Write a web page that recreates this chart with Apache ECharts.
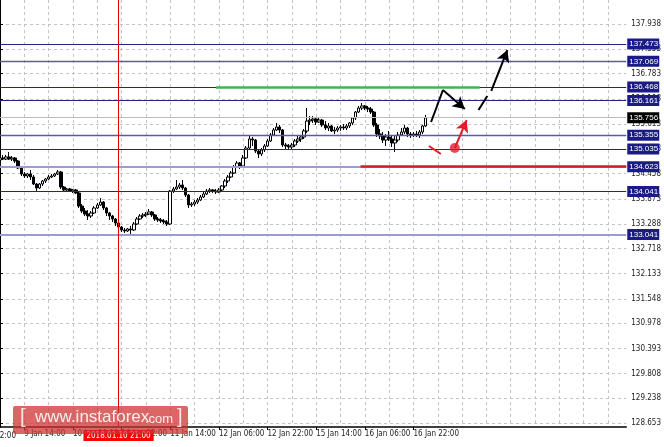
<!DOCTYPE html>
<html><head><meta charset="utf-8">
<script src="https://cdn.jsdelivr.net/npm/echarts@6/dist/echarts.min.js"></script>
<style>html,body{margin:0;padding:0;background:#fff}#c{width:664px;height:447px}</style>
</head><body><div id="c"></div>
<script>
// ---- data (USD/JPY H1) ----
const openP = [134.775,134.822,134.798,134.845,134.798,134.822,134.752,134.589,134.450,134.403,134.450,134.380,134.217,134.124,134.217,134.287,134.333,134.380,134.403,134.450,
134.496,134.147,134.078,134.101,134.054,134.078,134.008,133.705,133.589,133.519,133.473,133.543,133.659,133.729,133.798,133.659,133.543,133.473,133.403,133.310,
133.217,133.147,133.124,133.171,133.147,133.287,133.403,133.473,133.496,133.519,133.566,133.496,133.403,133.380,133.357,133.333,133.287,134.054,134.101,134.147,
134.194,134.124,133.961,133.729,133.752,133.798,133.845,133.915,133.984,134.054,134.078,134.054,134.031,134.078,134.171,134.287,134.380,134.473,134.612,134.705,
134.636,134.822,135.054,135.264,135.240,134.984,134.915,135.008,135.101,135.217,135.357,135.473,135.543,135.473,135.124,135.101,135.078,135.124,135.217,135.264,
135.310,135.450,135.682,135.705,135.729,135.659,135.705,135.589,135.519,135.566,135.450,135.473,135.519,135.543,135.519,135.566,135.636,135.752,135.891,135.984,
136.031,135.984,135.961,135.891,135.589,135.380,135.333,135.240,135.310,135.264,135.171,135.240,135.357,135.426,135.519,135.380,135.357,135.380,135.357,135.426,
135.566];
const closeP = [134.822,134.798,134.845,134.798,134.822,134.752,134.589,134.450,134.403,134.450,134.380,134.217,134.124,134.217,134.287,134.333,134.380,134.403,134.450,134.496,
134.147,134.078,134.101,134.054,134.078,134.008,133.705,133.589,133.519,133.473,133.543,133.659,133.729,133.798,133.659,133.543,133.473,133.403,133.310,133.217,
133.147,133.124,133.171,133.147,133.287,133.403,133.473,133.496,133.519,133.566,133.496,133.403,133.380,133.357,133.333,133.287,134.054,134.101,134.147,134.194,
134.124,133.961,133.729,133.752,133.798,133.845,133.915,133.984,134.054,134.078,134.054,134.031,134.078,134.171,134.287,134.380,134.473,134.612,134.705,134.636,
134.822,135.054,135.264,135.240,134.984,134.915,135.008,135.101,135.217,135.357,135.473,135.543,135.473,135.124,135.101,135.078,135.124,135.217,135.264,135.310,
135.450,135.682,135.705,135.729,135.659,135.705,135.589,135.519,135.566,135.450,135.473,135.519,135.543,135.519,135.566,135.636,135.752,135.891,135.984,136.031,
135.984,135.961,135.891,135.589,135.380,135.333,135.240,135.310,135.264,135.171,135.240,135.357,135.426,135.519,135.380,135.357,135.380,135.357,135.426,135.566,
135.756];
const lowP = [134.752,134.775,134.775,134.775,134.752,134.705,134.566,134.403,134.357,134.357,134.310,134.194,134.031,134.101,134.171,134.240,134.310,134.357,134.380,134.426,
134.101,134.031,134.054,134.031,134.008,133.984,133.659,133.543,133.473,133.380,133.426,133.519,133.636,133.705,133.612,133.473,133.380,133.333,133.240,133.147,
133.101,133.078,133.101,133.031,133.124,133.264,133.380,133.426,133.450,133.496,133.450,133.357,133.333,133.310,133.287,133.240,133.264,134.008,134.078,134.101,
134.078,133.915,133.659,133.682,133.705,133.752,133.822,133.891,133.961,134.008,134.008,133.984,134.008,134.031,134.124,134.240,134.357,134.450,134.589,134.566,
134.612,134.798,135.031,135.101,134.938,134.822,134.868,134.961,135.078,135.194,135.333,135.450,135.403,135.078,135.031,135.008,135.031,135.078,135.171,135.194,
135.264,135.403,135.589,135.636,135.589,135.636,135.543,135.473,135.450,135.426,135.380,135.426,135.450,135.473,135.473,135.519,135.589,135.705,135.868,135.938,
135.938,135.891,135.845,135.543,135.310,135.264,135.171,135.101,135.217,135.078,134.961,135.194,135.333,135.380,135.310,135.287,135.310,135.310,135.287,135.380,
135.543];
const highP = [134.868,134.891,134.891,134.961,134.868,134.845,134.775,134.612,134.496,134.473,134.543,134.426,134.240,134.240,134.310,134.357,134.426,134.450,134.473,134.543,
134.519,134.171,134.124,134.124,134.101,134.101,134.031,133.752,133.659,133.612,133.589,133.705,133.775,133.891,133.822,133.682,133.566,133.496,133.426,133.333,
133.240,133.194,133.194,133.240,133.333,133.450,133.519,133.543,133.566,133.636,133.589,133.519,133.450,133.426,133.403,133.380,134.078,134.147,134.310,134.240,
134.310,134.147,133.984,133.798,133.845,133.891,133.961,134.031,134.101,134.124,134.101,134.101,134.124,134.194,134.333,134.426,134.519,134.659,134.752,134.729,
134.891,135.101,135.357,135.310,135.264,135.031,135.054,135.147,135.264,135.403,135.519,135.636,135.589,135.496,135.171,135.147,135.171,135.264,135.333,135.357,
135.496,135.984,135.798,135.798,135.775,135.775,135.729,135.682,135.636,135.589,135.543,135.566,135.589,135.612,135.612,135.659,135.775,135.915,136.031,136.101,
136.054,136.031,136.008,135.915,135.636,135.496,135.426,135.380,135.450,135.357,135.333,135.426,135.519,135.589,135.543,135.426,135.426,135.450,135.473,135.589,
135.822];

const xTickIndex  = [8, 24, 40, 56, 72, 88, 104, 120, 136];
const xTickLabels = ['9 Jan 14:00','10 Jan 06:00','10 Jan 22:00','11 Jan 14:00','12 Jan 06:00','12 Jan 22:00','15 Jan 14:00','16 Jan 06:00','16 Jan 22:00'];
const yTickValues = [137.938,137.353,136.783,136.198,135.613,135.028,134.458,133.873,133.288,132.718,132.133,131.548,130.978,130.393,129.808,129.238,128.653];

const darkLevels  = [137.473, 136.468, 136.161, 135.035, 134.041];
const midLevels   = [137.069, 135.355];
const lightLevels = [134.623, 133.041];
const bidValue = 135.756;
const greenLevel = 136.468, greenFrom = 71, greenTo = 157.8;
const redLevel = 134.623, redFrom = 118.6;
const cursorIndex = 39, cursorLabel = '2018.01.10 21:00';

// forecast annotations, in (bar index, price)
const blackUp1   = [[141.8,135.659],[145.7,136.403]];
const blackDown1 = [[145.7,136.403],[152.9,135.961]];
const blackUp2a  = [[157.4,135.938],[160.3,136.264]];
const blackUp2b  = [[161.6,136.380],[166.9,137.333]];
const redDash    = [[141.1,135.101],[145.0,134.914]];
const redDot     = [149.6,135.054];
const redArrow   = [[149.6,135.054],[153.5,135.705]];

const TOTAL_BARS = 207;
// ---------------------------------------------------

const cats = [];
for (let i = 0; i < TOTAL_BARS; i++) cats.push(String(i));
const candles = openP.map((o, i) => [o, closeP[i], lowP[i], highP[i]]);
const labelMap = {};
xTickIndex.forEach((k, j) => { labelMap[k] = xTickLabels[j]; });

const FONT = "'Liberation Sans Narrow','DejaVu Sans Condensed','Liberation Sans',sans-serif";
const BOXFONT = "'Liberation Sans',sans-serif";
const NAVY = '#1b1b86';

function boxLabel(v, bg) {
  return {show: true, position: 'end', distance: 1, formatter: v.toFixed(3),
    backgroundColor: bg, color: '#fff', padding: [1, 1, 1, 2], fontSize: 8, lineHeight: 9,
    fontFamily: BOXFONT, width: 29};
}
function lvl(v, color, width) {
  return {yAxis: v, lineStyle: {color: color, width: width, type: 'solid'}, label: boxLabel(v, NAVY)};
}
const levelData = []
  .concat(lightLevels.map(v => lvl(v, '#9c9cd4', 2)))
  .concat(midLevels.map(v => lvl(v, '#5858b0', 1.3)))
  .concat(darkLevels.map(v => lvl(v, '#23238a', 1)));
levelData.push({yAxis: bidValue, lineStyle: {color: '#bdbdbd', width: 1, type: 'solid'}, label: boxLabel(bidValue, '#000')});

function seg(pts, color, w, arrow) {
  return [
    {coord: pts[0], symbol: 'none', lineStyle: {color: color, width: w, type: 'solid'}},
    {coord: pts[1], symbol: arrow ? 'arrow' : 'none', symbolSize: arrow ? [10, 12] : 0}
  ];
}

const chart = echarts.init(document.getElementById('c'), null, {renderer: 'canvas'});
chart.setOption({
  animation: false,
  backgroundColor: '#ffffff',
  grid: {left: 0, right: 32, top: 0, bottom: 20, containLabel: false},
  xAxis: [{
    type: 'category', data: cats, boundaryGap: false,
    axisLine: {show: true, lineStyle: {color: '#000', width: 1.5}},
    axisTick: {show: true, length: 3, interval: (i) => labelMap[i] !== undefined, lineStyle: {color: '#000'}},
    axisLabel: {show: true, interval: (i) => labelMap[i] !== undefined, align: 'left', margin: 3,
      fontSize: 8, color: '#222', fontFamily: FONT, formatter: (v, i) => labelMap[i] || ''},
    splitLine: {show: true, interval: 7, lineStyle: {color: '#c4c4c4', width: 1, type: [3, 3]}}
  }, {
    type: 'value', min: 0, max: TOTAL_BARS - 1, show: false
  }],
  yAxis: {
    type: 'value', position: 'right', min: 128.566, max: 138.496, scale: true,
    axisLine: {show: true, lineStyle: {color: '#000', width: 2}},
    axisTick: {show: true, length: 3, customValues: yTickValues, lineStyle: {color: '#000'}},
    axisLabel: {show: true, customValues: yTickValues, margin: 5, fontSize: 8, color: '#222', fontFamily: FONT,
      formatter: (v) => v.toFixed(3)},
    splitLine: {show: true, lineStyle: {color: '#c4c4c4', width: 1, type: [3, 3]}}
  },
  series: [{
    type: 'line', xAxisIndex: 1, data: [], silent: true,
    markLine: {silent: true, symbol: 'none', animation: false, data: levelData.concat([
      {xAxis: cursorIndex, lineStyle: {color: '#e00000', width: 1, type: 'solid'},
       label: {show: true, position: 'start', distance: 3, formatter: cursorLabel,
         backgroundColor: '#ff0000', color: '#fff', padding: [2, 3, 1, 3], fontSize: 8, fontFamily: FONT}}
    ])}
  }, {
    type: 'candlestick', xAxisIndex: 0, data: candles, barWidth: 3,
    itemStyle: {color: '#ffffff', color0: '#000000', borderColor: '#000000', borderColor0: '#000000', borderWidth: 1}
  }, {
    type: 'line', xAxisIndex: 1, data: [], silent: true, z: 5,
    markLine: {silent: true, symbol: 'none', animation: false, label: {show: false}, data: [
      [{coord: [greenFrom, greenLevel], lineStyle: {color: '#3fb64d', width: 2.5, type: 'solid'}}, {coord: [greenTo, greenLevel]}],
      [{coord: [redFrom, redLevel], lineStyle: {color: '#d9182a', width: 2.5, type: 'solid'}}, {coord: [TOTAL_BARS - 1, redLevel]}],
      seg(blackUp1, '#000', 2, false),
      seg(blackDown1, '#000', 2, true),
      seg(blackUp2a, '#000', 2, false),
      seg(blackUp2b, '#000', 2, true),
      seg(redDash, '#e51a2a', 2, false),
      seg(redArrow, '#e51a2a', 2, true)
    ]}
  }, {
    type: 'scatter', xAxisIndex: 1, data: [redDot], symbolSize: 10, z: 6, silent: true,
    itemStyle: {color: '#e51a2a'}
  }],
  graphic: [
    {type: 'text', x: -25, y: 432, silent: true, style: {text: '8 Jan 22:00', font: '8px ' + FONT, fill: '#222'}},
    {type: 'rect', x: 13, y: 406, z: 100, silent: true, shape: {width: 175, height: 28, r: 2}, style: {fill: 'rgba(205,48,48,0.74)'}},
    {type: 'text', x: 20, y: 407, z: 101, silent: true, style: {text: '[', font: '20px "Liberation Sans", sans-serif', fill: 'rgba(255,255,255,0.85)'}},
    {type: 'text', x: 35, y: 409, z: 101, silent: true, style: {text: 'www.instaforex', font: '17px "Liberation Sans", sans-serif', fill: 'rgba(255,255,255,0.88)'}},
    {type: 'text', x: 145, y: 413, z: 101, silent: true, style: {text: '.com', font: '13px "Liberation Sans", sans-serif', fill: 'rgba(255,255,255,0.88)'}},
    {type: 'text', x: 177, y: 407, z: 101, silent: true, style: {text: ']', font: '20px "Liberation Sans", sans-serif', fill: 'rgba(255,255,255,0.85)'}}
  ]
});
</script></body></html>
